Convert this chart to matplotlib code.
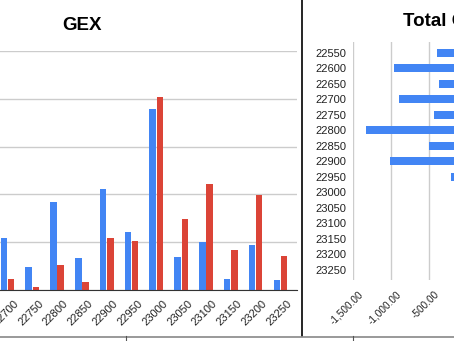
import matplotlib
matplotlib.use("Agg")
import numpy as np
import matplotlib.pyplot as plt
from matplotlib.lines import Line2D
from matplotlib.ticker import FuncFormatter
from matplotlib.transforms import ScaledTranslation

plt.rcParams['font.family'] = ['Liberation Sans', 'DejaVu Sans']

W, H = 454, 341
BLUE = '#4285F4'
RED = '#DB4437'

# GEX per strike (left chart), units of one grid step
gex_strikes = ['22700', '22750', '22800', '22850', '22900', '22950',
               '23000', '23050', '23100', '23150', '23200', '23250']
gex_calls = [1.09, 0.49, 1.85, 0.66, 2.12, 1.21, 3.79, 0.70, 1.01, 0.24, 0.94, 0.21]
gex_puts = [0.22, 0.07, 0.53, 0.17, 1.09, 1.03, 4.04, 1.48, 2.22, 0.83, 1.99, 0.72]

# Total GEX per strike (right chart)
total_strikes = ['22550', '22600', '22650', '22700', '22750', '22800', '22850', '22900',
                 '22950', '23000', '23050', '23100', '23150', '23200', '23250']
total_gex = [-400, -960, -365, -900, -430, -1330, -505, -1015, -205]
total_ticks = [-1500, -1000, -500, 0, 500, 1000, 1500]


def px_box(x0, y0, x1, y1):
    """pixel rectangle -> figure fraction [left, bottom, width, height]"""
    return [x0 / W, 1 - y1 / H, (x1 - x0) / W, (y1 - y0) / H]


def shift(ax, labels, dx, dy):
    for lab in labels:
        lab.set_transform(lab.get_transform() + ScaledTranslation(dx / 100, dy / 100, ax.figure.dpi_scale_trans))


fig = plt.figure(figsize=(W / 100, H / 100), dpi=100)

# ---- GEX column chart
ax = fig.add_axes(px_box(0, 51, 297, 290))
x = np.arange(len(gex_strikes))
bw = 0.26
ax.bar(x - 0.145, gex_calls, bw, color=BLUE, zorder=3)
ax.bar(x + 0.145, gex_puts, bw, color=RED, zorder=3)
ax.set_xlim(-0.30, 11.67)
ax.set_ylim(0, 5)
ax.set_yticks(range(6))
ax.yaxis.grid(True, color='#cccccc', lw=1)
ax.set_axisbelow(True)
for s in ['left', 'right', 'top']:
    ax.spines[s].set_visible(False)
ax.spines['bottom'].set_color('#333333')
ax.spines['bottom'].set_zorder(4)
ax.tick_params(length=0, labelleft=False)
ax.set_xticks(x)
ax.set_xticklabels(gex_strikes, rotation=45, ha='right', va='top',
                   rotation_mode='anchor', fontsize=8, color='#222222')
shift(ax, ax.get_xticklabels(), 6, -4)
fig.text(82 / W, 1 - 25 / H, 'GEX', ha='center', va='center', fontsize=13.5, weight='bold')

# ---- Total GEX horizontal bars
ax2 = fig.add_axes(px_box(353, 42, 581, 280))
y = np.arange(len(total_strikes))
ax2.barh(y[:len(total_gex)], total_gex, 0.54, color=BLUE, zorder=3)
ax2.set_ylim(14.65, -0.69)
ax2.set_xlim(-1500, 1500)
ax2.set_xticks(total_ticks)
ax2.xaxis.set_major_formatter(FuncFormatter(lambda v, p: f'{v:,.2f}'))
ax2.xaxis.grid(True, color='#cccccc', lw=1)
ax2.set_axisbelow(True)
for s in ax2.spines.values():
    s.set_visible(False)
ax2.tick_params(length=0)
ax2.set_yticks(y)
ax2.set_yticklabels(total_strikes, fontsize=8, color='#222222')
ax2.tick_params(axis='y', pad=4.5)
for lab in ax2.get_xticklabels():
    lab.set_rotation(45)
    lab.set_ha('right')
    lab.set_va('top')
    lab.set_rotation_mode('anchor')
    lab.set_fontsize(7.2)
    lab.set_color('#222222')
shift(ax2, ax2.get_xticklabels(), 5, -4)
fig.text(403 / W, 1 - 22 / H, 'Total GEX', ha='left', va='center', fontsize=13.5, weight='bold')

# sheet borders around the charts
fig.add_artist(Line2D([302 / W, 302 / W], [1, 1 - 336 / H], color='black', lw=1.2))
fig.add_artist(Line2D([0, 1], [1 - 336.5 / H] * 2, color='#888888', lw=1.2))
for tx in [126, 353]:
    fig.add_artist(Line2D([tx / W] * 2, [1 - 336 / H, 0], color='#555555', lw=0.8))

fig.savefig('out.png', dpi=100)
